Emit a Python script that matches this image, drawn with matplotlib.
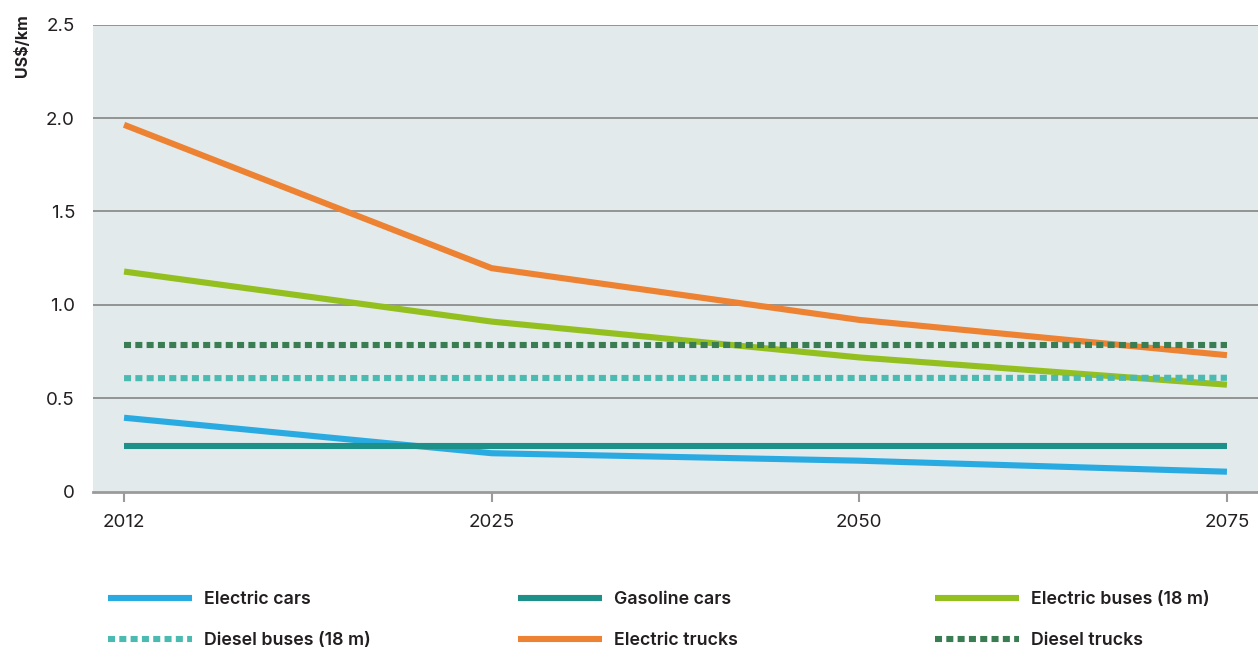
import numpy as np
import matplotlib
matplotlib.use("Agg")
import matplotlib.pyplot as plt

plt.rcParams['font.family'] = ['Inter', 'DejaVu Sans']

years = ["2012", "2025", "2050", "2075"]
electric_cars = [0.395, 0.205, 0.165, 0.106]
gasoline_cars = [0.244, 0.244, 0.244, 0.244]
electric_buses = [1.178, 0.91, 0.718, 0.572]
diesel_buses = [0.607, 0.608, 0.608, 0.609]
electric_trucks = [1.964, 1.196, 0.919, 0.73]
diesel_trucks = [0.787, 0.787, 0.787, 0.787]

fig = plt.figure(figsize=(12.58, 6.5), dpi=100)
ax = fig.add_axes([93 / 1258, 1 - 491.5 / 650, 1 - 93 / 1258, (491.5 - 24.7) / 650])
ax.set_facecolor("#E2EAEC")

x = np.arange(len(years))
lw = 4.4
dash = (1.15, 0.7)

l_ec, = ax.plot(x, electric_cars, color="#29ABE2", lw=lw, solid_capstyle="butt", label="Electric cars")
l_gc, = ax.plot(x, gasoline_cars, color="#1D9189", lw=lw, solid_capstyle="butt", label="Gasoline cars")
l_eb, = ax.plot(x, electric_buses, color="#93C01F", lw=lw, solid_capstyle="butt", label="Electric buses (18 m)")
l_db, = ax.plot(x, diesel_buses, color="#4BBAB1", lw=lw, dashes=dash, dash_capstyle="butt", label="Diesel buses (18 m)")
l_et, = ax.plot(x, electric_trucks, color="#EC8232", lw=lw, solid_capstyle="butt", label="Electric trucks")
l_dt, = ax.plot(x, diesel_trucks, color="#3A7D52", lw=lw, dashes=dash, dash_capstyle="butt", label="Diesel trucks")

ax.set_xlim(-31 / 367, 3 + 31 / 367)
ax.set_ylim(0, 2.5)
ax.set_xticks(x)
ax.set_xticklabels(years)
ax.set_yticks([0, 0.5, 1.0, 1.5, 2.0, 2.5])
ax.set_yticklabels(["0", "0.5", "1.0", "1.5", "2.0", "2.5"])
for yv in [0.5, 1.0, 1.5, 2.0, 2.5]:
    ax.axhline(yv, color="#8C8C8C", lw=1.3, zorder=1)

for s in ["top", "right", "left"]:
    ax.spines[s].set_visible(False)
ax.spines["bottom"].set_color("#9A9A9A")
ax.spines["bottom"].set_linewidth(2)
ax.tick_params(axis="y", length=0, pad=13, labelsize=13.5, labelcolor="#231F20")
ax.tick_params(axis="x", length=7, width=1.5, color="#9A9A9A", pad=9, labelsize=13.5, labelcolor="#231F20")

fig.text(22 / 1258, 1 - 14 / 650, "US$/km", rotation=90, ha="center", va="top",
         fontsize=11.5, fontweight="bold", color="#231F20")

cols = [([l_ec, l_db], 108), ([l_gc, l_et], 518), ([l_eb, l_dt], 935)]
for handles, xpix in cols:
    leg = fig.legend(handles=handles, loc="upper left", bbox_to_anchor=(xpix / 1258, 1 - 591 / 650),
                     frameon=False, fontsize=12.8, handlelength=4.7, handletextpad=0.72,
                     labelspacing=1.35, borderaxespad=0, borderpad=0)
    for t in leg.get_texts():
        t.set_fontweight("semibold")
        t.set_color("#231F20")

fig.savefig("out.png", dpi=100)
